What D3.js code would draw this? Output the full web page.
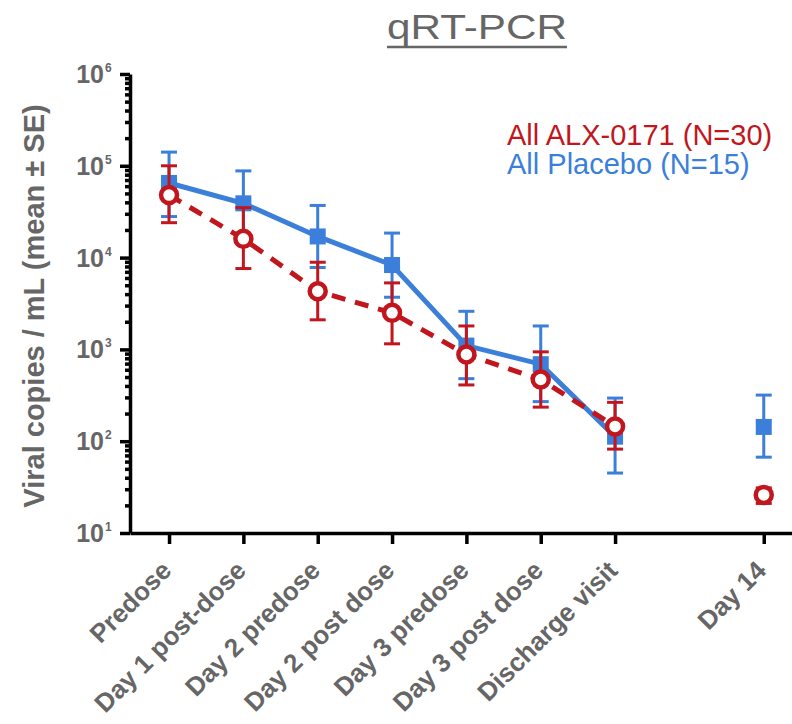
<!DOCTYPE html>
<html>
<head>
<meta charset="utf-8">
<script src="https://cdn.jsdelivr.net/npm/d3@7"></script>
<style>
  body { margin: 0; background: #fff; }
  text { font-family: "Liberation Sans", Arial, sans-serif; }
</style>
</head>
<body>
<div id="chart"></div>
<script>
// Chart data
const categories = ["Predose", "Day 1 post-dose", "Day 2 predose", "Day 2 post dose",
                    "Day 3 predose", "Day 3 post dose", "Discharge visit", "Day 14"];
const positions = [0, 1, 2, 3, 4, 5, 6, 8];

const placeboMean = [65000, 39000, 17000, 8300, 1100, 690, 112, 143];
const placeboHigh = [141000, 88000, 37000, 18500, 2600, 1800, 295, 318];
const placeboLow  = [28000, 17000, 7800, 3700, 480, 270, 45, 67];

const alxMean = [48000, 16000, 4300, 2500, 880, 470, 145, 26];
const alxHigh = [100000, 35000, 8900, 5300, 1800, 940, 265, 31];
const alxLow  = [24000, 7600, 2100, 1150, 410, 235, 82, 21];

const yMajor = [10, 100, 1000, 10000, 100000, 1000000];

const legendLabels = ["All ALX-0171 (N=30)", "All Placebo (N=15)"];

// Internal parameters
const width = 792, height = 724;
const red = "#c1161d", blue = "#3b7fdb", grey = "#666666";

const svg = d3.select("#chart")
    .append("svg")
    .attr("width", width)
    .attr("height", height);

const x = d3.scaleLinear().domain([-0.525, 8.38]).range([130, 792]);
const y = d3.scaleLog().domain([10, 1e6]).range([533, 74]);

// minor ticks 2..9 in each decade
let yMinor = [];
for (let i = 0; i < yMajor.length - 1; ++i) {
    for (let k = 2; k <= 9; ++k) yMinor.push(yMajor[i] * k);
}

// y axis
const yAxisG = svg.append("g").attr("transform", "translate(130,0)");
yAxisG.call(d3.axisLeft(y).tickValues(yMajor).tickSize(10).tickSizeOuter(0).tickFormat(""));
yAxisG.append("g").call(d3.axisLeft(y).tickValues(yMinor).tickSize(5).tickSizeOuter(0).tickFormat(""))
    .select(".domain").remove();
yAxisG.selectAll("path, line").attr("stroke", "#000").attr("stroke-width", 3.5);

// y tick labels 10^n
const yLab = svg.append("g");
yMajor.forEach(v => {
    const e = Math.round(Math.log10(v));
    yLab.append("text")
        .attr("x", 104).attr("y", y(v) + 9)
        .attr("text-anchor", "end")
        .attr("font-size", "25px").attr("font-weight", 700)
        .attr("fill", grey)
        .text("10");
    yLab.append("text")
        .attr("x", 105).attr("y", y(v) - 2)
        .attr("font-size", "12px").attr("font-weight", 700)
        .attr("fill", grey)
        .text(e);
});

// x axis
const xAxisG = svg.append("g").attr("transform", "translate(0,533)");
xAxisG.call(d3.axisBottom(x).tickValues(positions).tickSize(11).tickSizeOuter(0).tickFormat(""));
xAxisG.selectAll("path, line").attr("stroke", "#000").attr("stroke-width", 3.5);

// x tick labels, rotated
svg.append("g").selectAll("text")
    .data(categories)
    .join("text")
    .attr("transform", (d, i) => `translate(${x(positions[i]) + 4},572) rotate(-45)`)
    .attr("text-anchor", "end")
    .attr("font-size", "26px").attr("font-weight", 700)
    .attr("fill", grey)
    .text(d => d);

// y axis title
svg.append("text")
    .attr("transform", "translate(44,306) rotate(-90)")
    .attr("text-anchor", "middle")
    .attr("font-size", "29px").attr("font-weight", 700)
    .attr("fill", grey)
    .text("Viral copies / mL (mean \u00b1 SE)");

// title
svg.append("text")
    .attr("x", 387).attr("y", 39)
    .attr("font-size", "35px")
    .attr("textLength", 180).attr("lengthAdjust", "spacingAndGlyphs")
    .attr("fill", grey)
    .text("qRT-PCR");
svg.append("line")
    .attr("x1", 387).attr("x2", 567).attr("y1", 47).attr("y2", 47)
    .attr("stroke", grey).attr("stroke-width", 2.5);

// series helper
function series(mean, high, low) {
    return mean.map((m, i) => ({pos: positions[i], mean: m, high: high[i], low: low[i]}));
}
const placebo = series(placeboMean, placeboHigh, placeboLow);
const alx = series(alxMean, alxHigh, alxLow);

const line = d3.line()
    .defined(d => d.pos <= 6)
    .x(d => x(d.pos))
    .y(d => y(d.mean));

function errorBars(g, data, color) {
    const eb = g.append("g").attr("stroke", color).attr("stroke-width", 3).attr("fill", "none");
    eb.selectAll(".stem").data(data).join("line").attr("class", "stem")
        .attr("x1", d => x(d.pos)).attr("x2", d => x(d.pos))
        .attr("y1", d => y(d.high)).attr("y2", d => y(d.low));
    eb.selectAll(".capTop").data(data).join("line").attr("class", "capTop")
        .attr("x1", d => x(d.pos) - 8).attr("x2", d => x(d.pos) + 8)
        .attr("y1", d => y(d.high)).attr("y2", d => y(d.high));
    eb.selectAll(".capBot").data(data).join("line").attr("class", "capBot")
        .attr("x1", d => x(d.pos) - 8).attr("x2", d => x(d.pos) + 8)
        .attr("y1", d => y(d.low)).attr("y2", d => y(d.low));
}

// placebo (blue, solid, squares)
const gB = svg.append("g");
gB.append("path").datum(placebo)
    .attr("d", line)
    .attr("fill", "none").attr("stroke", blue).attr("stroke-width", 5);
errorBars(gB, placebo, blue);
gB.selectAll("rect").data(placebo).join("rect")
    .attr("x", d => x(d.pos) - 8).attr("y", d => y(d.mean) - 8)
    .attr("width", 16).attr("height", 16)
    .attr("fill", blue);

// ALX-0171 (red, dashed, open circles)
const gR = svg.append("g");
gR.append("path").datum(alx)
    .attr("d", line)
    .attr("fill", "none").attr("stroke", red).attr("stroke-width", 5)
    .attr("stroke-dasharray", "14,10");
errorBars(gR, alx, red);
gR.selectAll("circle").data(alx).join("circle")
    .attr("cx", d => x(d.pos)).attr("cy", d => y(d.mean))
    .attr("r", 8)
    .attr("fill", "#fff").attr("stroke", red).attr("stroke-width", 4.5);

// legend
svg.append("g").selectAll("text")
    .data(legendLabels)
    .join("text")
    .attr("x", 507).attr("y", (d, i) => 145 + i * 29)
    .attr("font-size", "29px")
    .attr("fill", (d, i) => i === 0 ? red : blue)
    .text(d => d);
</script>
</body>
</html>
